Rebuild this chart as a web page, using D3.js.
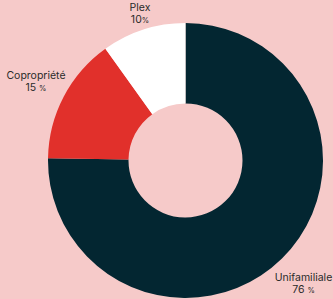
<!DOCTYPE html>
<html>
<head>
<meta charset="utf-8">
<script src="https://cdn.jsdelivr.net/npm/d3@7"></script>
<style>
body { margin: 0; background: #f6cac9; }
text { font-family: Inter, "Open Sans", sans-serif; fill: #2a2a2a; }
</style>
</head>
<body>
<div id="chart"></div>
<script>
// -- data
var categories = ["Unifamiliale", "Copropriété", "Plex"];
var values = [76, 15, 10];
var pctLabels = ["76 ", "15 ", "10"];
var colors = ["#032631", "#e1302b", "#ffffff"];

// -- layout
var width = 333, height = 299;
var cx = 185.5, cy = 160.5;
var outerR = 137.5, innerR = 57;

var svg = d3.select("#chart")
	.append("svg")
		.attr("width", width)
		.attr("height", height);

var g = svg.append("g")
	.attr("transform", "translate(" + cx + "," + cy + ")");

var pie = d3.pie().sort(null).value(d => d.v);
var arc = d3.arc().innerRadius(innerR).outerRadius(outerR);

var data = categories.map((c, i) => ({name: c, v: values[i], pct: pctLabels[i], color: colors[i]}));

g.selectAll("path")
	.data(pie(data))
	.enter()
	.append("path")
	.attr("d", arc)
	.attr("fill", d => d.data.color);

// label positions (name centre, first baseline)
var labelPos = {
	"Unifamiliale": [303.5, 281],
	"Copropriété": [36, 79],
	"Plex": [140, 11]
};

var labels = svg.selectAll(".lbl")
	.data(data)
	.enter()
	.append("text")
	.attr("class", "lbl")
	.attr("text-anchor", "middle")
	.attr("font-size", 10.5)
	.attr("transform", d => "translate(" + labelPos[d.name][0] + "," + labelPos[d.name][1] + ")");

labels.append("tspan")
	.attr("x", 0)
	.text(d => d.name);

var second = labels.append("tspan")
	.attr("x", 0)
	.attr("dy", 12);
second.append("tspan").text(d => d.pct);
second.append("tspan").attr("font-size", 7.5).text("%");
</script>
</body>
</html>
